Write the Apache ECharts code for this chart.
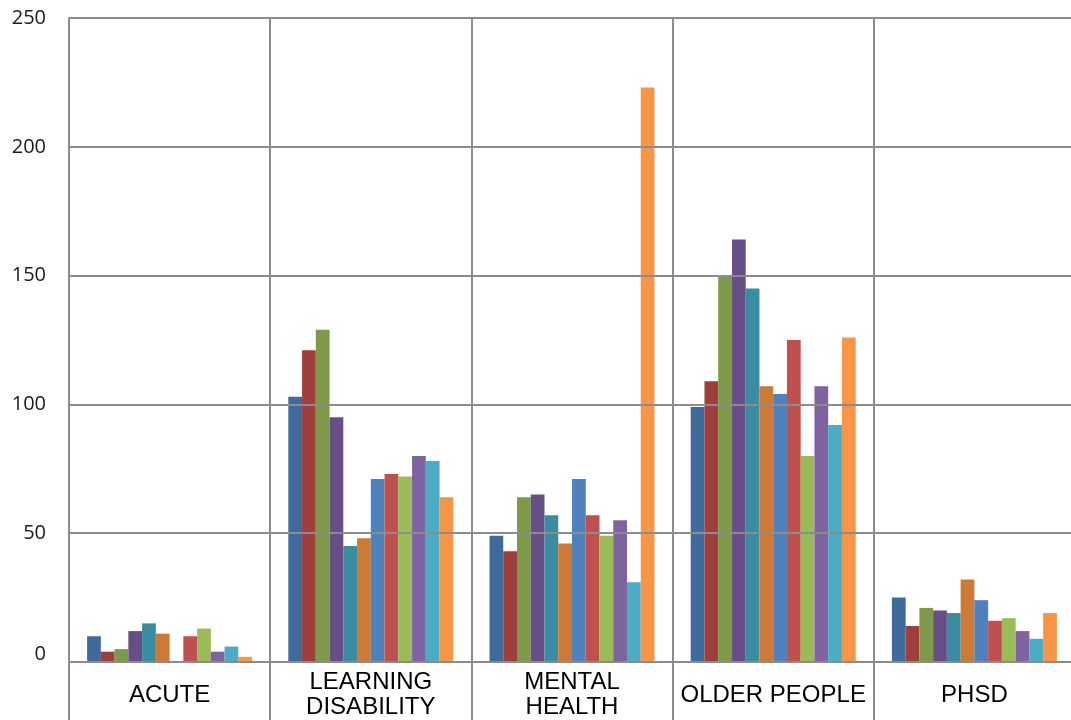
<!DOCTYPE html>
<html>
<head>
<meta charset="utf-8">
<script src="https://cdn.jsdelivr.net/npm/echarts@6/dist/echarts.min.js"></script>
<style>
  html, body { margin: 0; padding: 0; background: #fff; }
  #chart { width: 1071px; height: 720px; }
</style>
</head>
<body>
<div id="chart"></div>
<script>
// Service areas along the category axis
var categories = ['ACUTE', 'LEARNING\nDISABILITY', 'MENTAL\nHEALTH', 'OLDER PEOPLE', 'PHSD'];

// Value axis ticks
var yMin = 0;
var yMax = 250;
var yStep = 50;

// Twelve series, one value per service area
var s1  = [10, 103, 49,  99, 25];
var s2  = [4,  121, 43, 109, 14];
var s3  = [5,  129, 64, 150, 21];
var s4  = [12,  95, 65, 164, 20];
var s5  = [15,  45, 57, 145, 19];
var s6  = [11,  48, 46, 107, 32];
var s7  = [0,   71, 71, 104, 24];
var s8  = [10,  73, 57, 125, 16];
var s9  = [13,  72, 49,  80, 17];
var s10 = [4,   80, 55, 107, 12];
var s11 = [6,   78, 31,  92,  9];
var s12 = [2,   64, 223, 126, 19];

var seriesData = [s1, s2, s3, s4, s5, s6, s7, s8, s9, s10, s11, s12];
var palette = ['#3F6A9C', '#9E3F3D', '#7E9A48', '#684E87', '#3A8CA3', '#CD7A37',
               '#4F81BD', '#C0504D', '#9BBB59', '#8064A2', '#4BACC6', '#F79646'];

var gridColor = '#8c8c8c';

var chart = echarts.init(document.getElementById('chart'));
chart.setOption({
  animation: false,
  color: palette,
  // plot area runs a few pixels past the right edge of the canvas
  grid: {
    left: 69, width: 1006, top: 18, bottom: 58,
    containLabel: false,
    outerBoundsMode: 'none'
  },
  xAxis: {
    type: 'category',
    data: categories,
    z: 5,
    axisLine: { show: true, lineStyle: { color: gridColor, width: 2 } },
    axisTick: { show: true, length: 60, lineStyle: { color: gridColor, width: 2 } },
    splitLine: { show: true, interval: 0, lineStyle: { color: gridColor, width: 2 } },
    axisLabel: {
      interval: 0,
      margin: 33,
      verticalAlign: 'middle',
      color: '#000',
      fontFamily: 'Liberation Sans',
      fontSize: 24,
      lineHeight: 25
    }
  },
  yAxis: {
    type: 'value',
    min: yMin,
    max: yMax,
    interval: yStep,
    z: 5,
    axisLine: { show: true, lineStyle: { color: gridColor, width: 2 } },
    axisTick: { show: false },
    splitLine: { show: true, lineStyle: { color: gridColor, width: 2 } },
    axisLabel: {
      margin: 23,
      color: '#1a1a1a',
      fontFamily: 'Open Sans',
      fontSize: 20,
      formatter: function (v) {
        // the zero label sits slightly above its gridline
        return v === 0 ? '{zero|0}' : String(v);
      },
      rich: {
        zero: { fontFamily: 'Open Sans', fontSize: 20, color: '#1a1a1a', padding: [0, 0, 16, 0] }
      }
    }
  },
  series: seriesData.map(function (d, i) {
    return {
      name: 'Series ' + (i + 1),
      type: 'bar',
      data: d,
      barGap: '0%',
      barCategoryGap: '18%',
      itemStyle: { color: palette[i] }
    };
  })
});
</script>
</body>
</html>
